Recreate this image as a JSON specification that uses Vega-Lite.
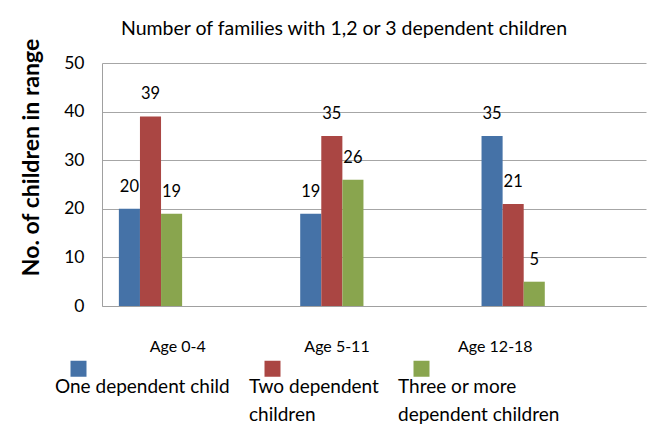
{
  "$schema": "https://vega.github.io/schema/vega-lite/v6.json",
  "width": 544,
  "height": 243,
  "autosize": {"type": "none"},
  "padding": {"left": 102, "top": 63, "right": 21, "bottom": 120},
  "background": "white",
  "title": {
    "text": "Number of families with 1,2 or 3 dependent children",
    "font": "Lato",
    "fontSize": 19.5,
    "fontWeight": "normal",
    "color": "black",
    "anchor": "middle",
    "baseline": "alphabetic",
    "offset": -16,
    "dx": -30
  },
  "data": {
    "values": [
      {"age": "Age 0-4", "series": "One dependent child", "value": 20},
      {"age": "Age 0-4", "series": "Two dependent children", "value": 39},
      {"age": "Age 0-4", "series": "Three or more dependent children", "value": 19},
      {"age": "Age 5-11", "series": "One dependent child", "value": 19},
      {"age": "Age 5-11", "series": "Two dependent children", "value": 35},
      {"age": "Age 5-11", "series": "Three or more dependent children", "value": 26},
      {"age": "Age 12-18", "series": "One dependent child", "value": 35},
      {"age": "Age 12-18", "series": "Two dependent children", "value": 21},
      {"age": "Age 12-18", "series": "Three or more dependent children", "value": 5}
    ]
  },
  "encoding": {
    "x": {
      "field": "age",
      "type": "nominal",
      "sort": ["Age 0-4", "Age 5-11", "Age 12-18"],
      "scale": {"paddingInner": 0, "paddingOuter": 0},
      "axis": {
        "title": null,
        "labelAngle": 0,
        "ticks": false,
        "domainColor": "#a0a0a0",
        "labelFontSize": 16,
        "labelColor": "black",
        "labelPadding": 32,
        "labelOffset": {
          "condition": [
            {"test": "datum.value == 'Age 0-4'", "value": -15},
            {"test": "datum.value == 'Age 5-11'", "value": -37}
          ],
          "value": -60
        }
      }
    },
    "xOffset": {
      "field": "series",
      "type": "nominal",
      "scale": {
        "domain": ["One dependent child", "Two dependent children", "Three or more dependent children", "d1", "d2", "d3", "d4"],
        "paddingInner": 0,
        "paddingOuter": 0.8
      }
    },
    "y": {
      "field": "value",
      "type": "quantitative",
      "scale": {"domain": [0, 50]},
      "axis": {
        "title": "No. of children in range",
        "titleFontSize": 23,
        "titleFontWeight": "bold",
        "titleColor": "black",
        "titleY": 94,
        "titlePadding": 20,
        "values": [0, 10, 20, 30, 40, 50],
        "ticks": false,
        "domainColor": "#a0a0a0",
        "gridColor": "#a6a6a6",
        "labelFontSize": 17.5,
        "labelColor": "black",
        "labelPadding": 18
      }
    }
  },
  "layer": [
    {
      "mark": {"type": "bar"},
      "encoding": {
        "color": {
          "field": "series",
          "type": "nominal",
          "scale": {
            "domain": ["One dependent child", "Two dependent children", "Three or more dependent children"],
            "range": ["#4572A7", "#AA4643", "#89A54E"]
          },
          "legend": {
            "title": null,
            "orient": "none",
            "legendX": -33,
            "legendY": 296,
            "direction": "horizontal",
            "columns": 3,
            "columnPadding": 19,
            "symbolType": "square",
            "symbolSize": 256,
            "symbolStrokeWidth": 0,
            "symbolOpacity": 1,
            "labelFontSize": 19,
            "labelColor": "black",
            "labelLimit": 300,
            "labelOffset": -33,
            "labelBaseline": "top",
            "labelExpr": "datum.label == 'Two dependent children' ? ['Two dependent', 'children'] : datum.label == 'Three or more dependent children' ? ['Three or more', 'dependent children'] : [datum.label, ' ']",
            "encode": {
              "labels": {"update": {"dy": {"value": 9}, "lineHeight": {"value": 28}}}
            }
          }
        }
      }
    },
    {
      "mark": {"type": "text", "dy": -22, "fontSize": 16.5, "color": "black", "baseline": "middle"},
      "encoding": {
        "text": {"field": "value", "type": "quantitative"}
      }
    }
  ],
  "config": {
    "font": "Lato",
    "view": {"stroke": null}
  }
}
